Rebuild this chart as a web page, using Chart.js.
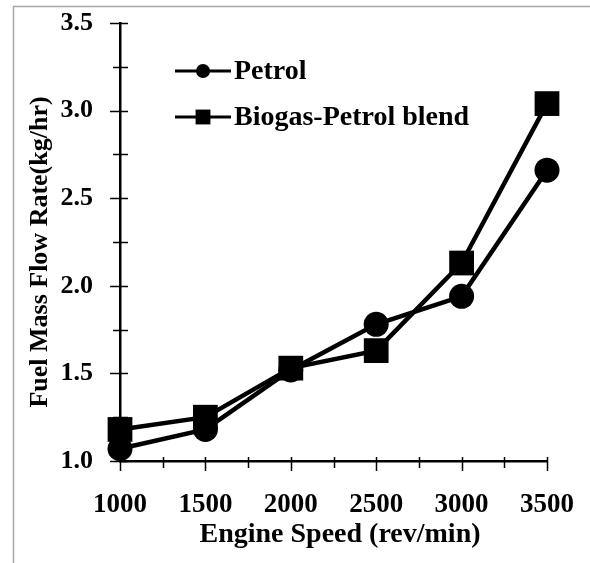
<!DOCTYPE html>
<html>
<head>
<meta charset="utf-8">
<script src="https://cdn.jsdelivr.net/npm/chart.js@4/dist/chart.umd.min.js"></script>
<style>
  html, body { margin: 0; padding: 0; background: #ffffff; }
  #wrap { width: 590px; height: 563px; }
</style>
</head>
<body>
<div id="wrap"><canvas id="c" width="590" height="563"></canvas></div>
<script>
// Engine speed (rev/min) and fuel mass flow rate (kg/hr)
const engineSpeeds = [1000, 1500, 2000, 2500, 3000, 3500];
const petrolFlow   = [1.07, 1.18, 1.52, 1.78, 1.94, 2.66];
const blendFlow    = [1.18, 1.25, 1.53, 1.63, 2.13, 3.04];
const seriesNames  = ['Petrol', 'Biogas-Petrol blend'];
const yTickLabels  = ['1.0', '1.5', '2.0', '2.5', '3.0', '3.5'];
const xTickLabels  = ['1000', '1500', '2000', '2500', '3000', '3500'];
const xAxisTitle   = 'Engine Speed (rev/min)';
const yAxisTitle   = 'Fuel Mass Flow Rate(kg/hr)';

const FONT = '"Liberation Serif", "Times New Roman", serif';

function pointsOf(values) {
  return engineSpeeds.map((s, i) => ({ x: s, y: values[i] }));
}

function labelFor(list, v) {
  const hit = list.find(t => Math.abs(parseFloat(t) - v) < 1e-6);
  return hit === undefined ? '' : hit;
}

// Outer frame, crossing y ticks, x ticks, axis titles and the inset legend
const decorations = {
  id: 'decorations',
  beforeDraw(chart) {
    const ctx = chart.ctx;
    ctx.save();
    ctx.strokeStyle = '#a6a6a6';
    ctx.lineWidth = 1.5;
    ctx.beginPath();
    ctx.moveTo(13.5, 563);
    ctx.lineTo(13.5, 6.5);
    ctx.lineTo(590, 6.5);
    ctx.stroke();
    ctx.restore();
  },
  beforeDatasetsDraw(chart) {
    const ctx = chart.ctx;
    const xs = chart.scales.x, ys = chart.scales.y;
    const area = chart.chartArea;
    ctx.save();
    ctx.strokeStyle = '#000';
    ctx.lineWidth = 1.5;
    ctx.beginPath();
    for (let v = 1.0; v <= 3.5 + 1e-9; v += 0.25) {
      const py = Math.round(ys.getPixelForValue(v)) + 0.5;
      const major = Math.abs(v * 2 - Math.round(v * 2)) < 1e-6;
      ctx.moveTo(area.left - (major ? 10 : 7), py);
      ctx.lineTo(area.left + 8, py);
    }
    for (let v = 1000; v <= 3500; v += 250) {
      const px = Math.round(xs.getPixelForValue(v)) + 0.5;
      const major = v % 500 === 0;
      ctx.moveTo(px, area.bottom - 4);
      ctx.lineTo(px, area.bottom + (major ? 10 : 7));
    }
    ctx.stroke();

    // axis titles
    ctx.fillStyle = '#000';
    ctx.textAlign = 'center';
    ctx.textBaseline = 'middle';
    ctx.font = 'bold 28px ' + FONT;
    ctx.fillText(xAxisTitle, 340, 535);
    ctx.save();
    ctx.translate(40, 252);
    ctx.rotate(-Math.PI / 2);
    ctx.font = 'bold 26px ' + FONT;
    ctx.fillText(yAxisTitle, 0, 0);
    ctx.restore();
    ctx.restore();
  },
  afterDraw(chart) {
    const ctx = chart.ctx;
    const rows = [71, 117];
    ctx.save();
    chart.data.datasets.forEach((ds, i) => {
      const y = rows[i];
      ctx.strokeStyle = '#000';
      ctx.lineWidth = 3;
      ctx.beginPath();
      ctx.moveTo(175, y);
      ctx.lineTo(231, y);
      ctx.stroke();
      ctx.fillStyle = '#000';
      Chart.helpers.drawPoint(ctx, {
        pointStyle: ds.pointStyle,
        radius: ds.pointStyle === 'rect' ? 10.5 : 7,
        borderWidth: 0
      }, 203, y);
      ctx.font = 'bold 28px ' + FONT;
      ctx.textBaseline = 'middle';
      ctx.textAlign = 'left';
      ctx.fillText(ds.label, 234, y + 1);
    });
    ctx.restore();
  }
};

new Chart(document.getElementById('c'), {
  type: 'line',
  data: {
    datasets: [
      {
        label: seriesNames[0],
        data: pointsOf(petrolFlow),
        borderColor: '#000',
        backgroundColor: '#000',
        borderWidth: 4.5,
        pointStyle: 'circle',
        pointRadius: 12.5,
        pointBackgroundColor: '#000',
        pointBorderColor: '#000',
        pointBorderWidth: 0,
        tension: 0
      },
      {
        label: seriesNames[1],
        data: pointsOf(blendFlow),
        borderColor: '#000',
        backgroundColor: '#000',
        borderWidth: 4.5,
        pointStyle: 'rect',
        pointRadius: 17.5,
        pointBackgroundColor: '#000',
        pointBorderColor: '#000',
        pointBorderWidth: 0,
        tension: 0
      }
    ]
  },
  options: {
    responsive: false,
    animation: false,
    clip: false,
    layout: { padding: { left: 0, right: 43, top: 23, bottom: 0 } },
    plugins: {
      legend: { display: false },
      tooltip: { enabled: false }
    },
    scales: {
      x: {
        type: 'linear',
        min: 1000,
        max: 3500,
        afterFit(s) {
          s.height = 102;
          s.paddingLeft = 0;
          s.paddingRight = 0;
        },
        grid: { display: false, drawTicks: false },
        border: { display: true, color: '#000', width: 2.5 },
        ticks: {
          stepSize: 250,
          padding: 28,
          color: '#000',
          font: { family: FONT, size: 27, weight: 'bold' },
          autoSkip: false,
          maxRotation: 0,
          callback: v => labelFor(xTickLabels, v)
        },
        title: { display: false }
      },
      y: {
        min: 1.0,
        max: 3.5,
        afterFit(s) {
          s.width = 120;
          s.paddingTop = 0;
          s.paddingBottom = 0;
        },
        grid: { display: false, drawTicks: false },
        border: { display: true, color: '#000', width: 2.5 },
        ticks: {
          stepSize: 0.25,
          padding: 27,
          color: '#000',
          font: { family: FONT, size: 26, weight: 'bold' },
          autoSkip: false,
          callback: v => labelFor(yTickLabels, v)
        },
        title: { display: false }
      }
    }
  },
  plugins: [decorations]
});
</script>
</body>
</html>
